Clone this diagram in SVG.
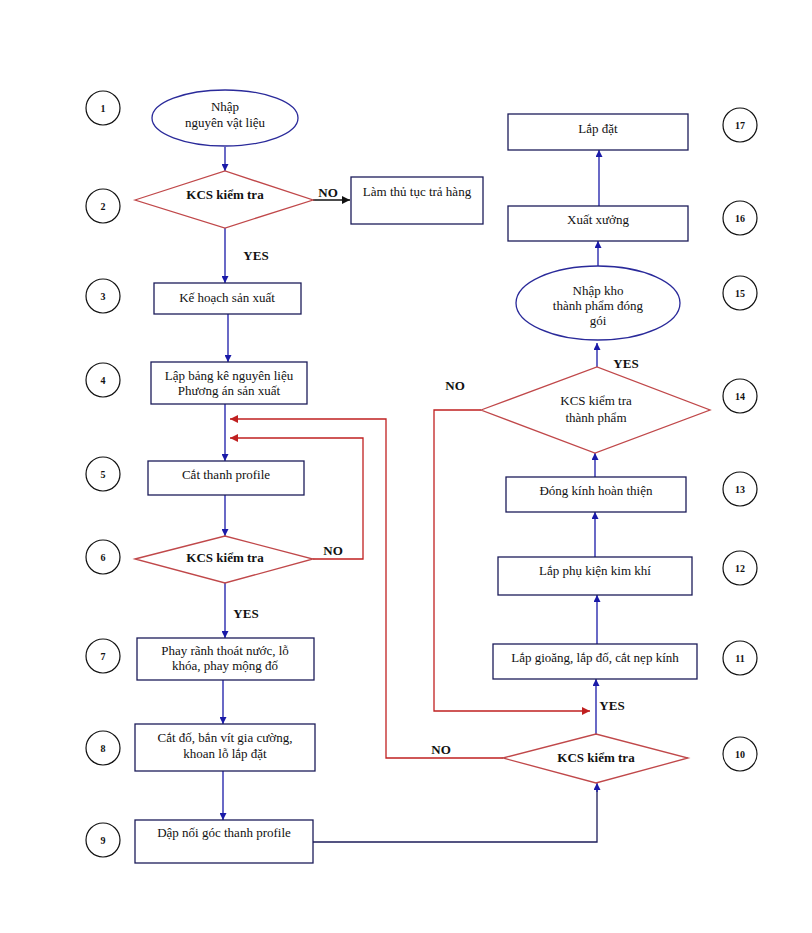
<svg xmlns="http://www.w3.org/2000/svg" width="812" height="933" viewBox="0 0 812 933" font-family="'Liberation Serif', Tinos, 'DejaVu Serif', serif">
<style>
text{font-family:"Liberation Serif",Tinos,"DejaVu Serif",serif;font-size:13px;fill:#111;text-anchor:middle}
.b{font-weight:bold}
.num{font-size:10px;font-weight:bold}
.box{fill:#fff;stroke:#1c1c5a;stroke-width:1.3}
.ell{fill:#fff;stroke:#2a2a9a;stroke-width:1.3}
.dia{fill:#fff;stroke:#c0484a;stroke-width:1.3}
.cir{fill:#fff;stroke:#111;stroke-width:1.2}
.bl{fill:none;stroke:#1a1aa8;stroke-width:1.3}
.dk{fill:none;stroke:#1c1c5a;stroke-width:1.3}
.rd{fill:none;stroke:#c02020;stroke-width:1.3}
.bk{fill:none;stroke:#111;stroke-width:1.3}
</style>
<defs>
<marker id="ab" viewBox="0 0 10 10" refX="10" refY="5" markerWidth="7" markerHeight="7" markerUnits="userSpaceOnUse" orient="auto"><path d="M0,0L10,5L0,10z" fill="#1a1aa8"/></marker>
<marker id="ar" viewBox="0 0 10 10" refX="10" refY="5" markerWidth="8" markerHeight="8" markerUnits="userSpaceOnUse" orient="auto"><path d="M0,0L10,5L0,10z" fill="#c02020"/></marker>
<marker id="ak" viewBox="0 0 10 10" refX="10" refY="5" markerWidth="8" markerHeight="8" markerUnits="userSpaceOnUse" orient="auto"><path d="M0,0L10,5L0,10z" fill="#111"/></marker>
</defs>
<rect width="812" height="933" fill="#fff"/>

<g id="connectors">
<path class="bl" d="M225,147V171" marker-end="url(#ab)"/>
<path class="bk" d="M313,200H350" marker-end="url(#ak)"/>
<path class="bl" d="M225,228V283" marker-end="url(#ab)"/>
<path class="bl" d="M228,314V362" marker-end="url(#ab)"/>
<path class="bl" d="M225,404V461" marker-end="url(#ab)"/>
<path class="bl" d="M225,495V536" marker-end="url(#ab)"/>
<path class="bl" d="M225,583V638" marker-end="url(#ab)"/>
<path class="bl" d="M223,680V724" marker-end="url(#ab)"/>
<path class="bl" d="M223,771V820" marker-end="url(#ab)"/>
<path class="dk" d="M313,842H597V790"/>
<path class="bl" d="M597,792V783" marker-end="url(#ab)"/>
<path class="rd" d="M503,758H386V419H230" marker-end="url(#ar)"/>
<path class="rd" d="M313,559H363V438H230" marker-end="url(#ar)"/>
<path class="rd" d="M481,410H434V711H590" marker-end="url(#ar)"/>
<path class="bl" d="M596,734V679" marker-end="url(#ab)"/>
<path class="bl" d="M597,644V595" marker-end="url(#ab)"/>
<path class="bl" d="M595,557V512" marker-end="url(#ab)"/>
<path class="bl" d="M595,477V453" marker-end="url(#ab)"/>
<path class="bl" d="M597,367V343" marker-end="url(#ab)"/>
<path class="bl" d="M598,266V241" marker-end="url(#ab)"/>
<path class="bl" d="M599,206V150" marker-end="url(#ab)"/>
<text class="b" x="328" y="197">NO</text>
<text class="b" x="256" y="260">YES</text>
<text class="b" x="333" y="555">NO</text>
<text class="b" x="246" y="618">YES</text>
<text class="b" x="441" y="754">NO</text>
<text class="b" x="612" y="710">YES</text>
<text class="b" x="455" y="390">NO</text>
<text class="b" x="626" y="368">YES</text>
</g>

<g id="n1"><ellipse class="ell" cx="225" cy="118" rx="73" ry="28"/><text x="225" y="111">Nhập</text><text x="225" y="127">nguyên vật liệu</text></g>
<g id="n2"><polygon class="dia" points="135,200 225,171 313,200 225,228"/><text class="b" x="225" y="199">KCS kiểm tra</text></g>
<g id="nreturn"><rect class="box" x="351" y="177" width="132" height="47"/><text x="417" y="196">Làm thủ tục trả hàng</text></g>
<g id="n3"><rect class="box" x="154" y="283" width="147" height="31"/><text x="227" y="302">Kế hoạch sản xuất</text></g>
<g id="n4"><rect class="box" x="151" y="362" width="156" height="42"/><text x="229" y="380">Lập bảng kê nguyên liệu</text><text x="229" y="395">Phương án sản xuất</text></g>
<g id="n5"><rect class="box" x="148" y="461" width="156" height="34"/><text x="226" y="479">Cắt thanh profile</text></g>
<g id="n6"><polygon class="dia" points="135,559 225,536 313,559 225,583"/><text class="b" x="225" y="562">KCS kiểm tra</text></g>
<g id="n7"><rect class="box" x="137" y="638" width="177" height="42"/><text x="225" y="655">Phay rãnh thoát nước, lỗ</text><text x="225" y="670">khóa, phay mộng đố</text></g>
<g id="n8"><rect class="box" x="135" y="724" width="180" height="47"/><text x="225" y="742">Cắt đố, bắn vít  gia cường,</text><text x="225" y="758">khoan lỗ lắp đặt</text></g>
<g id="n9"><rect class="box" x="135" y="820" width="178" height="43"/><text x="224" y="837">Dập nối góc thanh profile</text></g>
<g id="n10"><polygon class="dia" points="503,758 596,734 688,758 596,783"/><text class="b" x="596" y="762">KCS kiểm tra</text></g>
<g id="n11"><rect class="box" x="493" y="644" width="204" height="35"/><text x="595" y="662">Lắp gioăng, lắp đố, cắt nẹp kính</text></g>
<g id="n12"><rect class="box" x="498" y="557" width="194" height="38"/><text x="595" y="575">Lắp phụ kiện kim khí</text></g>
<g id="n13"><rect class="box" x="506" y="477" width="180" height="35"/><text x="596" y="495">Đóng kính hoàn thiện</text></g>
<g id="n14"><polygon class="dia" points="481,410 597,367 710,410 595,453"/><text x="596" y="405">KCS  kiểm tra</text><text x="596" y="422">thành phẩm</text></g>
<g id="n15"><ellipse class="ell" cx="598" cy="303" rx="82" ry="37"/><text x="598" y="295">Nhập kho</text><text x="598" y="310">thành phẩm đóng</text><text x="598" y="325">gói</text></g>
<g id="n16"><rect class="box" x="508" y="206" width="180" height="35"/><text x="598" y="224">Xuất xưởng</text></g>
<g id="n17"><rect class="box" x="508" y="114" width="180" height="36"/><text x="598" y="133">Lắp đặt</text></g>

<g id="labels">
<circle class="cir" cx="103" cy="108" r="17"/><text class="num" x="103" y="112">1</text>
<circle class="cir" cx="103" cy="206" r="17"/><text class="num" x="103" y="210">2</text>
<circle class="cir" cx="103" cy="296" r="17"/><text class="num" x="103" y="300">3</text>
<circle class="cir" cx="103" cy="380" r="17"/><text class="num" x="103" y="384">4</text>
<circle class="cir" cx="103" cy="474" r="17"/><text class="num" x="103" y="478">5</text>
<circle class="cir" cx="103" cy="557" r="17"/><text class="num" x="103" y="561">6</text>
<circle class="cir" cx="103" cy="656" r="17"/><text class="num" x="103" y="660">7</text>
<circle class="cir" cx="103" cy="748" r="17"/><text class="num" x="103" y="752">8</text>
<circle class="cir" cx="103" cy="840" r="17"/><text class="num" x="103" y="844">9</text>
<circle class="cir" cx="740" cy="754" r="17"/><text class="num" x="740" y="758">10</text>
<circle class="cir" cx="740" cy="658" r="17"/><text class="num" x="740" y="662">11</text>
<circle class="cir" cx="740" cy="568" r="17"/><text class="num" x="740" y="572">12</text>
<circle class="cir" cx="740" cy="489" r="17"/><text class="num" x="740" y="493">13</text>
<circle class="cir" cx="740" cy="396" r="17"/><text class="num" x="740" y="400">14</text>
<circle class="cir" cx="740" cy="293" r="17"/><text class="num" x="740" y="297">15</text>
<circle class="cir" cx="740" cy="218" r="17"/><text class="num" x="740" y="222">16</text>
<circle class="cir" cx="740" cy="125" r="17"/><text class="num" x="740" y="129">17</text>
</g>
</svg>
